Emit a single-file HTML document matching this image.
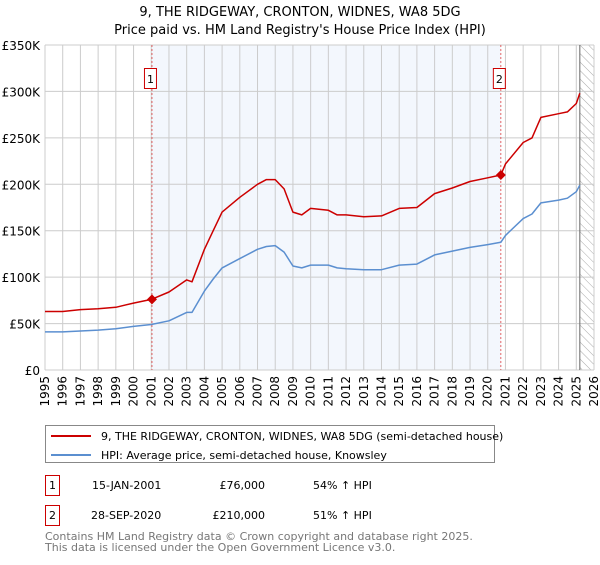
<!DOCTYPE html>
<html><head><meta charset="utf-8"><style>
body{margin:0;width:600px;height:560px;background:#fff;font-family:"Liberation Sans","DejaVu Sans",sans-serif;overflow:hidden}
svg text{font-family:"DejaVu Sans","Liberation Sans",sans-serif}
</style></head><body>
<svg id="c" width="600" height="560" xmlns="http://www.w3.org/2000/svg">
<text x="300" y="16" text-anchor="middle" font-size="13">9, THE RIDGEWAY, CRONTON, WIDNES, WA8 5DG</text>
<text x="300" y="34" text-anchor="middle" font-size="13">Price paid vs. HM Land Registry's House Price Index (HPI)</text>
<g id="plot"></g>
<g>
<rect x="45.5" y="425.5" width="449" height="37" fill="#fff" stroke="#888"/>
<line x1="51" y1="436" x2="91" y2="436" stroke="#cc0000" stroke-width="2"/>
<text x="101" y="440" font-size="11">9, THE RIDGEWAY, CRONTON, WIDNES, WA8 5DG (semi-detached house)</text>
<line x1="51" y1="455" x2="91" y2="455" stroke="#5b8fd0" stroke-width="2"/>
<text x="101" y="459" font-size="11">HPI: Average price, semi-detached house, Knowsley</text>
</g>
<g font-size="11">
<rect x="45.5" y="475.5" width="14" height="20" fill="#fff" stroke="#cc0000"/><text x="52.5" y="489" text-anchor="middle">1</text>
<text x="92" y="489">15-JAN-2001</text><text x="265" y="489" text-anchor="end">£76,000</text><text x="313" y="489">54% ↑ HPI</text>
<rect x="45.5" y="505.5" width="14" height="20" fill="#fff" stroke="#cc0000"/><text x="52.5" y="519" text-anchor="middle">2</text>
<text x="91" y="519">28-SEP-2020</text><text x="265" y="519" text-anchor="end">£210,000</text><text x="313" y="519">51% ↑ HPI</text>
</g>
<text x="45" y="540" font-size="11" fill="#777">Contains HM Land Registry data © Crown copyright and database right 2025.</text>
<text x="45" y="551" font-size="11" fill="#777">This data is licensed under the Open Government Licence v3.0.</text>
</svg>
<script>
const years=[1995,1996,1997,1998,1999,2000,2001,2002,2003,2003.3,2004,2004.5,2005,2006,2007,2007.5,2008,2008.5,2009,2009.5,2010,2011,2011.5,2012,2013,2014,2015,2016,2017,2018,2019,2020,2020.74,2021,2022,2022.5,2023,2024,2024.5,2025,2025.2];
const propertyValues=[63,63,65,66,67.5,72,76,84,97,95,130,150,170,186,200,205,205,195,170,167,174,172,167,167,165,166,174,175,190,196,203,207,210,222,245,250,272,276,278,287,298];
const hpiValues=[41,41,42,43,44.5,47,49,53,62,62,85,98,110,120,130,133,134,127,112,110,113,113,110,109,108,108,113,114,124,128,132,135,137.5,145,163,168,180,183,185,192,199];
const yTicks=[0,50,100,150,200,250,300,350];
const xTicks=[1995,1996,1997,1998,1999,2000,2001,2002,2003,2004,2005,2006,2007,2008,2009,2010,2011,2012,2013,2014,2015,2016,2017,2018,2019,2020,2021,2022,2023,2024,2025,2026];
const saleDates=[2001.04,2020.74];
const salePrices=[76,210];
const ns="http://www.w3.org/2000/svg";
const X0=45,X1=594,Y0=370,Y1=45;
const xs=v=>X0+(v-1995)/31*(X1-X0);
const ys=v=>Y0-v/350*(Y0-Y1);
const g=document.getElementById('plot');
function mk(t,a){const e=document.createElementNS(ns,t);for(const k in a)e.setAttribute(k,a[k]);g.appendChild(e);return e;}
let e=mk('rect',{x:xs(saleDates[0]),y:Y1,width:xs(saleDates[1])-xs(saleDates[0]),height:Y0-Y1,fill:'#eef3fc',opacity:0.7});


const defs=document.createElementNS(ns,'defs');defs.innerHTML='<pattern id="h" width="6" height="6" patternUnits="userSpaceOnUse" patternTransform="rotate(-45)"><line x1="0" y1="0" x2="0" y2="6" stroke="#aaa" stroke-width="1"/></pattern>';g.appendChild(defs);
e=mk('rect',{x:xs(2025.2),y:Y1,width:X1-xs(2025.2),height:Y0-Y1,fill:'url(#h)'});


xTicks.forEach(t=>{const x=xs(t);
 e=mk('line',{x1:x,y1:Y1,x2:x,y2:Y0,stroke:'#ccc','stroke-width':1});
 
 
 e=mk('text',{x:0,y:0,'font-size':12,'text-anchor':'end',transform:`translate(${x+4},${Y0+6}) rotate(-90)`});e.textContent=t;
 
 
});
yTicks.forEach(t=>{const y=ys(t);
 e=mk('line',{x1:X0,y1:y,x2:X1,y2:y,stroke:'#ccc','stroke-width':1});
 
 
 e=mk('text',{x:X0-5,y:y+5,'font-size':12,'text-anchor':'end'});e.textContent=t===0?'£0':'£'+t+'K';
 
 
});
e=mk('line',{x1:xs(2025.2),y1:Y1,x2:xs(2025.2),y2:Y0,stroke:'#666'});


saleDates.forEach((d,i)=>{const x=xs(d);
 e=mk('line',{x1:x,y1:Y1,x2:x,y2:Y0,stroke:'#e04040','stroke-dasharray':'2,2','stroke-width':0.8});
 
 
 e=mk('rect',{x:x-7.5,y:68.5,width:12,height:20,fill:'#fff',stroke:'#cc0000'});
 
 
 e=mk('text',{x:x-1.5,y:83,'font-size':11,'text-anchor':'middle'});e.textContent=i+1;
 
 
});
function line(vals,col,name){const p=years.map((y,i)=>(i?'L':'M')+xs(y).toFixed(1)+','+ys(vals[i]).toFixed(1)).join('');
 const el=mk('path',{d:p,fill:'none',stroke:col,'stroke-width':1.5,'stroke-linejoin':'round'});
 
 }
line(hpiValues,'#5b8fd0','hpi-line');
line(propertyValues,'#cc0000','property-line');
saleDates.forEach((d,i)=>{const x=xs(d),y=ys(salePrices[i]);
 e=mk('path',{d:`M${x},${y-5}L${x+5},${y}L${x},${y+5}L${x-5},${y}Z`,fill:'#cc0000'});
 
 
});
</script>
</body></html>
